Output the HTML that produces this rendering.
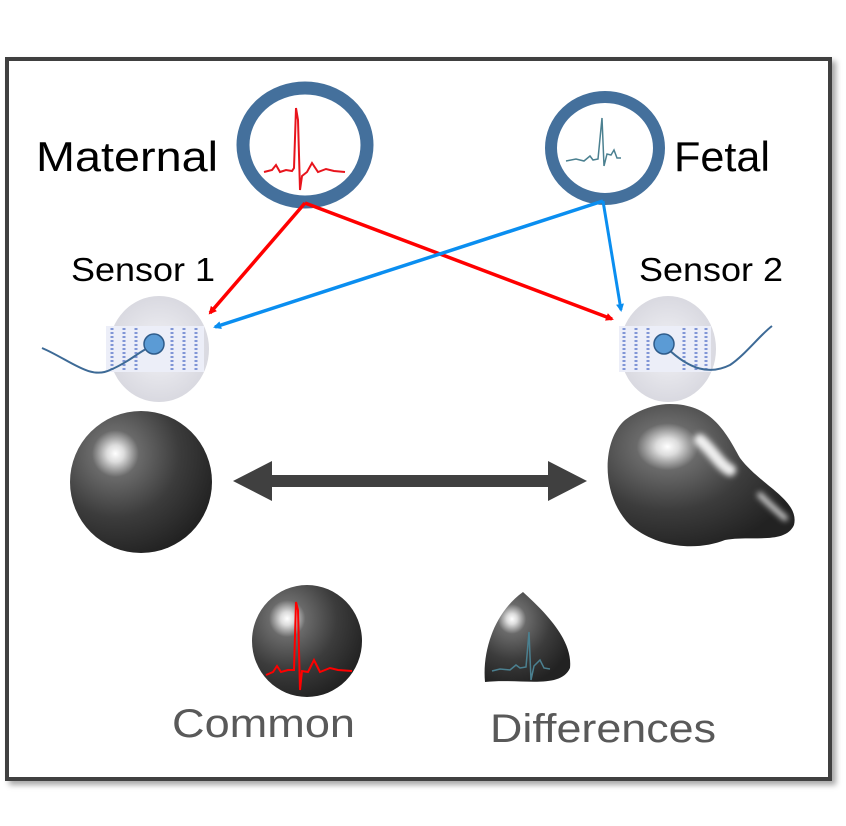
<!DOCTYPE html>
<html><head><meta charset="utf-8"><style>
html,body{margin:0;padding:0;background:#fff;}
svg{display:block;}
text{font-family:"Liberation Sans",sans-serif;}
</style></head><body>
<svg width="846" height="826" viewBox="0 0 846 826" xmlns="http://www.w3.org/2000/svg">
<defs>
<radialGradient id="sph" cx="0.32" cy="0.3" r="0.75">
<stop offset="0" stop-color="#ffffff"/>
<stop offset="0.08" stop-color="#dcdcdc"/>
<stop offset="0.22" stop-color="#6a6a6a"/>
<stop offset="0.6" stop-color="#3c3c3c"/>
<stop offset="1" stop-color="#222"/>
</radialGradient>
<radialGradient id="pad" cx="0.5" cy="0.5" r="0.6">
<stop offset="0" stop-color="#f2f2f6"/>
<stop offset="1" stop-color="#d4d4dc"/>
</radialGradient>
<filter id="sh" x="-5%" y="-5%" width="115%" height="115%"><feDropShadow dx="4" dy="4" stdDeviation="3" flood-color="#000" flood-opacity="0.35"/></filter>
<filter id="bl" x="-100%" y="-100%" width="300%" height="300%"><feGaussianBlur stdDeviation="3"/></filter>
<marker id="ar" markerWidth="8" markerHeight="8" refX="6" refY="4" orient="auto" markerUnits="userSpaceOnUse"><path d="M0,0 L8,4 L0,8z" fill="#f00"/></marker>
<marker id="ab" markerWidth="8" markerHeight="8" refX="6" refY="4" orient="auto" markerUnits="userSpaceOnUse"><path d="M0,0 L8,4 L0,8z" fill="#0a8ef0"/></marker>
</defs>
<rect x="7" y="59" width="823" height="720" fill="#fff" stroke="#3f3f3f" stroke-width="4" filter="url(#sh)"/>

<ellipse cx="305" cy="145" rx="62" ry="57" fill="#fff" stroke="#44709c" stroke-width="13"/>
<ellipse cx="605" cy="148" rx="54" ry="51" fill="#fff" stroke="#44709c" stroke-width="12"/>
<polyline points="264,172 272,170 276,165 280,172 286,170 292,171 294,168 296,108 298,120 300,190 302,176 307,172 312,163 318,172 326,169 334,171 345,172" fill="none" stroke="#e8141c" stroke-width="2"/>
<polyline points="566,161 576,159 584,161 590,156 593,160 598,159 602,118 604,166 607,154 611,155 614,150 617,158 621,158" fill="none" stroke="#4b8090" stroke-width="1.5"/>

<text x="36" y="171" font-size="42" fill="#000" textLength="182" lengthAdjust="spacingAndGlyphs">Maternal</text>
<text x="674" y="171" font-size="42" fill="#000" textLength="96" lengthAdjust="spacingAndGlyphs">Fetal</text>
<text x="71" y="281" font-size="33" fill="#000" textLength="144" lengthAdjust="spacingAndGlyphs">Sensor 1</text>
<text x="639" y="281" font-size="33" fill="#000" textLength="144" lengthAdjust="spacingAndGlyphs">Sensor 2</text>

<ellipse cx="159" cy="349" rx="50" ry="53" fill="url(#pad)"/>
<rect x="106" y="326" width="98" height="46" fill="#eceef8"/>
<g stroke="#3a5bc0" stroke-width="3" stroke-dasharray="2 2" opacity="0.6">
<line x1="112" y1="328" x2="112" y2="370"/><line x1="124" y1="328" x2="124" y2="370"/><line x1="136" y1="328" x2="136" y2="370"/><line x1="172" y1="328" x2="172" y2="370"/><line x1="184" y1="328" x2="184" y2="370"/><line x1="196" y1="328" x2="196" y2="370"/>
</g>
<path d="M42,348 C70,360 90,380 110,370 C130,362 140,350 155,345" fill="none" stroke="#3d6a96" stroke-width="2"/>
<circle cx="154" cy="344" r="10" fill="#5b9bd5" stroke="#2e5b8a" stroke-width="1.5"/>

<ellipse cx="668" cy="349" rx="48" ry="53" fill="url(#pad)"/>
<rect x="619" y="326" width="92" height="46" fill="#eceef8"/>
<g stroke="#3a5bc0" stroke-width="3" stroke-dasharray="2 2" opacity="0.6">
<line x1="624" y1="328" x2="624" y2="370"/><line x1="636" y1="328" x2="636" y2="370"/><line x1="648" y1="328" x2="648" y2="370"/><line x1="684" y1="328" x2="684" y2="370"/><line x1="696" y1="328" x2="696" y2="370"/><line x1="706" y1="328" x2="706" y2="370"/>
</g>
<path d="M667,348 C690,370 710,375 730,365 C745,355 760,335 772,326" fill="none" stroke="#3d6a96" stroke-width="2"/>
<circle cx="664" cy="344" r="10" fill="#5b9bd5" stroke="#2e5b8a" stroke-width="1.5"/>

<line x1="305" y1="203" x2="210" y2="313" stroke="#f00" stroke-width="3.5" marker-end="url(#ar)"/>
<line x1="305" y1="203" x2="612" y2="319" stroke="#f00" stroke-width="3.5" marker-end="url(#ar)"/>
<line x1="603" y1="201" x2="215" y2="327" stroke="#0a8ef0" stroke-width="3.5" marker-end="url(#ab)"/>
<line x1="603" y1="201" x2="621" y2="310" stroke="#0a8ef0" stroke-width="3" marker-end="url(#ab)"/>

<ellipse cx="141" cy="482" rx="71" ry="71" fill="url(#sph)"/>
<path d="M233,481 L272,461 L272,475 L548,475 L548,461 L587,481 L548,501 L548,487 L272,487 L272,501 Z" fill="#404040"/>
<path d="M670,404 C710,404 725,430 740,458 C760,485 800,500 794,525 C785,545 750,535 725,540 C700,550 660,550 630,525 C600,495 602,440 625,420 C638,410 655,404 670,404Z" fill="url(#sph)"/>
<path d="M700,440 C712,450 720,465 730,470" fill="none" stroke="#fff" stroke-width="12" stroke-linecap="round" filter="url(#bl)" opacity="0.9"/>
<path d="M760,495 C770,505 778,512 785,518" fill="none" stroke="#eee" stroke-width="6" stroke-linecap="round" filter="url(#bl)" opacity="0.8"/>

<ellipse cx="307" cy="641" rx="55" ry="56" fill="url(#sph)"/>
<polyline points="266,675 273,672 277,666 281,672 288,670 294,670 296,602 298,610 300,690 302,671 308,672 314,660 320,672 330,668 338,670 352,671" fill="none" stroke="#f00" stroke-width="2"/>
<path d="M523,592 C545,612 573,640 570,668 C560,690 520,678 485,682 C482,650 495,612 523,592Z" fill="url(#sph)"/>
<polyline points="492,671 500,669 510,670 516,665 520,668 526,667 529,632 531,680 534,666 540,660 544,668 550,669" fill="none" stroke="#4b8090" stroke-width="1.5"/>

<text x="172" y="737" font-size="40" fill="#595959" textLength="183" lengthAdjust="spacingAndGlyphs">Common</text>
<text x="490" y="742" font-size="40" fill="#595959" textLength="226" lengthAdjust="spacingAndGlyphs">Differences</text>
</svg>
</body></html>
